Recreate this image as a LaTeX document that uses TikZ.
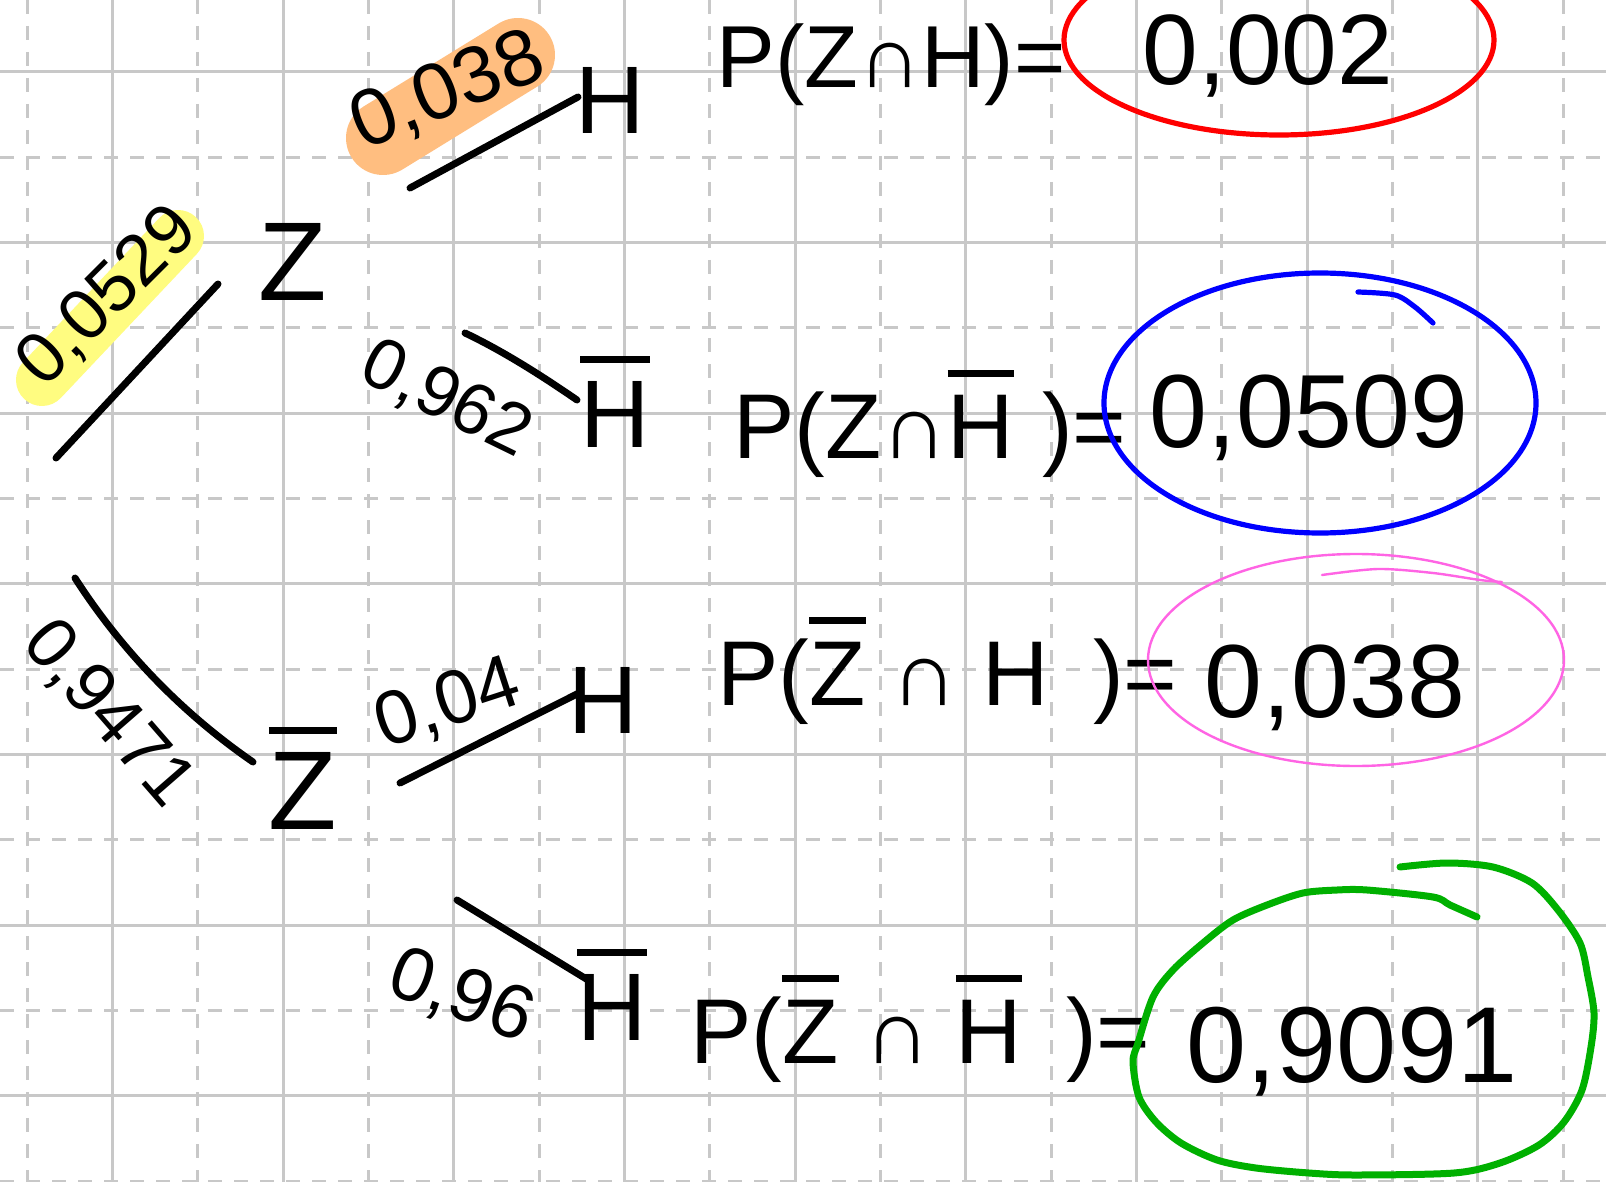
\documentclass[tikz,border=0pt]{standalone}
\usepackage{fontspec}
\setmainfont{Liberation Sans}
\definecolor{gridc}{RGB}{200,200,200}
\definecolor{hlyellow}{RGB}{255,252,128}
\definecolor{hlorange}{RGB}{255,190,128}
\definecolor{ringred}{RGB}{255,0,0}
\definecolor{ringblue}{RGB}{0,0,255}
\definecolor{ringpink}{RGB}{255,100,228}
\definecolor{ringgreen}{RGB}{0,176,0}
\newcommand\ovl[2][9pt]{\leavevmode\vbox{\hrule height 3.5pt\kern#1\hbox{#2}}}
\begin{document}
\begin{tikzpicture}[x=0.5pt,y=-0.5pt,
  gridsolid/.style={draw=gridc,line width=1.5pt},
  griddash/.style={draw=gridc,line width=1.5pt,dash pattern=on 7pt off 6pt},
  branch/.style={line width=3.5pt,line cap=round},
  hl/.style={line width=#1,line cap=round},
  lbl/.style={inner sep=0pt,font=\fontsize{36}{40}\selectfont},
  letter/.style={inner sep=0pt,font=\fontsize{48}{56}\selectfont},
  expr/.style={inner sep=0pt,anchor=base west,font=\fontsize{46}{52}\selectfont},
  val/.style={inner sep=0pt,anchor=base,font=\fontsize{52}{60}\selectfont},
  ring/.style={line width=#1,line cap=round,line join=round}
]
\useasboundingbox (0,0) rectangle (1606,1182);
\fill[white] (0,0) rectangle (1606,1182);
% grid
\foreach \k in {0,2,...,18} \draw[griddash] ({27+85.333*\k},0) -- ({27+85.333*\k},1182);
\foreach \k in {1,3,...,17} \draw[gridsolid] ({27+85.333*\k},0) -- ({27+85.333*\k},1182);
\foreach \j in {0,2,...,12} \draw[gridsolid] (0,{71.7+85.333*\j}) -- (1606,{71.7+85.333*\j});
\foreach \j in {1,3,...,13} \draw[griddash] (0,{71.7+85.333*\j}) -- (1606,{71.7+85.333*\j});
% highlights
\draw[hl=26pt,hlyellow] (42,380) -- (178,236);
\draw[hl=37pt,hlorange] (383,138) -- (518,55);
% branch end points
\coordinate (a1) at (56,458);   \coordinate (a2) at (218,284);
\coordinate (b1) at (410,188);  \coordinate (b2) at (578,97);
\coordinate (c1) at (465,333);  \coordinate (c2) at (577,400);
\coordinate (d1) at (75,578);   \coordinate (d2) at (253,762);
\coordinate (e1) at (400,783);  \coordinate (e2) at (579,693);
\coordinate (f1) at (457,900);  \coordinate (f2) at (588,980);
\draw[branch] (a1) -- (a2);
\draw[branch] (b1) -- (b2);
\draw[branch] (c1) .. controls (505,352) and (545,378) .. (c2);
\draw[branch] (d1) .. controls (122,651) and (182,713) .. (d2);
\draw[branch] (e1) -- (e2);
\draw[branch] (f1) -- (f2);
% branch labels
\node[lbl,rotate=45] (l1) at (108,297) {0,0529};
\node[lbl,rotate=22,font=\fontsize{40}{44}\selectfont] (l2) at (448,92) {0,038};
\node[lbl,rotate=-26] (l3) at (446,400) {0,962};
\node[lbl,rotate=-49] (l4) at (108,714) {0,9471};
\node[lbl,rotate=18,font=\fontsize{38}{42}\selectfont] (l5) at (448,705) {0,04};
\node[lbl,rotate=-20,font=\fontsize{38}{42}\selectfont] (l6) at (461,997) {0,96};
% tree letters
\node[letter,font=\fontsize{56}{62}\selectfont] (Z) at (293,262) {Z};
\node[letter,font=\fontsize{56}{62}\selectfont] (Zb) at (303,778) {\ovl{Z}};
\node[letter] (H1) at (610,100) {H};
\node[letter] (H2) at (615,402) {\ovl{H}};
\node[letter] (H3) at (603,700) {H};
\node[letter] (H4) at (612,995) {\ovl{H}};
% expressions
\node[expr,font=\fontsize{44}{50}\selectfont] (x1) at (716,88) {P(Z∩H)=};
\node[expr] (x2) at (733,458) {P(Z∩\ovl{H}\hspace{14pt})=};
\node[expr] (x3) at (717,705) {P(\ovl{Z} ∩ H\hspace{22pt})=};
\node[expr] (x4) at (690,1063) {P(\ovl{Z} ∩ \ovl{H}\hspace{22pt})=};
% values
\node[val,font=\fontsize{50}{56}\selectfont] (v1) at (1268,85) {0,002};
\node[val] (v2) at (1309,447) {0,0509};
\node[val,font=\fontsize{52}{58}\selectfont] (v3) at (1335,717) {0,038};
\node[val,font=\fontsize{54}{60}\selectfont] (v4) at (1352,1082) {0,9091};
% rings
\draw[ring=2.6pt,ringred] (1279,40) ellipse [x radius=215, y radius=95];
\draw[ring=2.6pt,ringblue] (1320,403) ellipse [x radius=216, y radius=130];
\draw[ring=2.6pt,ringblue] plot[smooth] coordinates {(1358,292) (1395,295) (1415,307) (1433,323)};
\draw[ring=1.2pt,ringpink] (1356,660) ellipse [x radius=208, y radius=106];
\draw[ring=1.2pt,ringpink] plot[smooth] coordinates {(1322,575) (1378,569) (1433,573) (1480,580) (1502,582)};
\draw[ring=3.5pt,ringgreen] plot[smooth] coordinates {
  (1477,917) (1450,905) (1433,897) (1367,890) (1337,890) (1303,893) (1267,905)
  (1233,920) (1203,943) (1173,970) (1153,997) (1138,1043) (1133,1062) (1139,1097)
  (1156,1122) (1181,1143) (1217,1160) (1256,1168) (1309,1173) (1355,1175)
  (1454,1173) (1500,1163) (1539,1145) (1564,1122) (1582,1090) (1591,1047)
  (1594,1013) (1588,977) (1580,943) (1558,910) (1532,883) (1493,867) (1447,863) (1400,867)};
\end{tikzpicture}
\end{document}
